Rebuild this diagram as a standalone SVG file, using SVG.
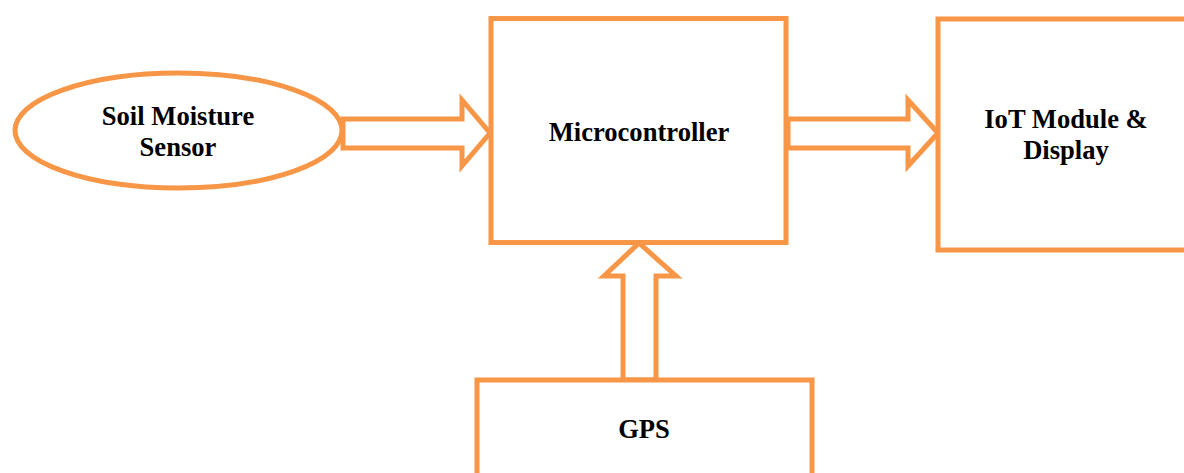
<svg xmlns="http://www.w3.org/2000/svg" width="1184" height="473" viewBox="0 0 1184 473">
  <style>
    .shape { fill: #ffffff; stroke: #F79646; stroke-width: 5; stroke-linejoin: miter; }
    .arrow { fill: #ffffff; stroke: #F79646; stroke-width: 5; stroke-linejoin: miter; }
    .label { font-family: "Liberation Serif", "Times New Roman", serif; font-weight: bold; font-size: 26.6px; fill: #000000; text-anchor: middle; }
  </style>
  <rect width="1184" height="473" fill="#ffffff"/>

  <g id="connectors">
    <!-- sensor to microcontroller -->
    <polygon class="arrow" points="343,119 462,119 462,100 490,133 462,166 462,148 343,148"/>
    <!-- microcontroller to IoT module -->
    <polygon class="arrow" points="788,119 908,119 908,100 938,133 908,166 908,148 788,148"/>
    <!-- GPS up to microcontroller -->
    <polygon class="arrow" points="623,380 623,276 604,276 639,243 676,276 656,276 656,380"/>
  </g>

  <g id="sensor">
    <ellipse class="shape" cx="178.5" cy="130.5" rx="163.5" ry="57.5"/>
    <text class="label" x="178" y="125">Soil Moisture</text>
    <text class="label" x="178" y="156">Sensor</text>
  </g>

  <g id="microcontroller">
    <rect class="shape" x="491" y="18.5" width="295" height="224"/>
    <text class="label" x="639" y="141">Microcontroller</text>
  </g>

  <g id="iot-display">
    <rect class="shape" x="938" y="19" width="260" height="231"/>
    <text class="label" x="1066" y="128">IoT Module &amp;</text>
    <text class="label" x="1066" y="159">Display</text>
  </g>

  <g id="gps">
    <rect class="shape" x="477" y="380" width="335" height="110"/>
    <text class="label" x="644" y="438">GPS</text>
  </g>
</svg>
